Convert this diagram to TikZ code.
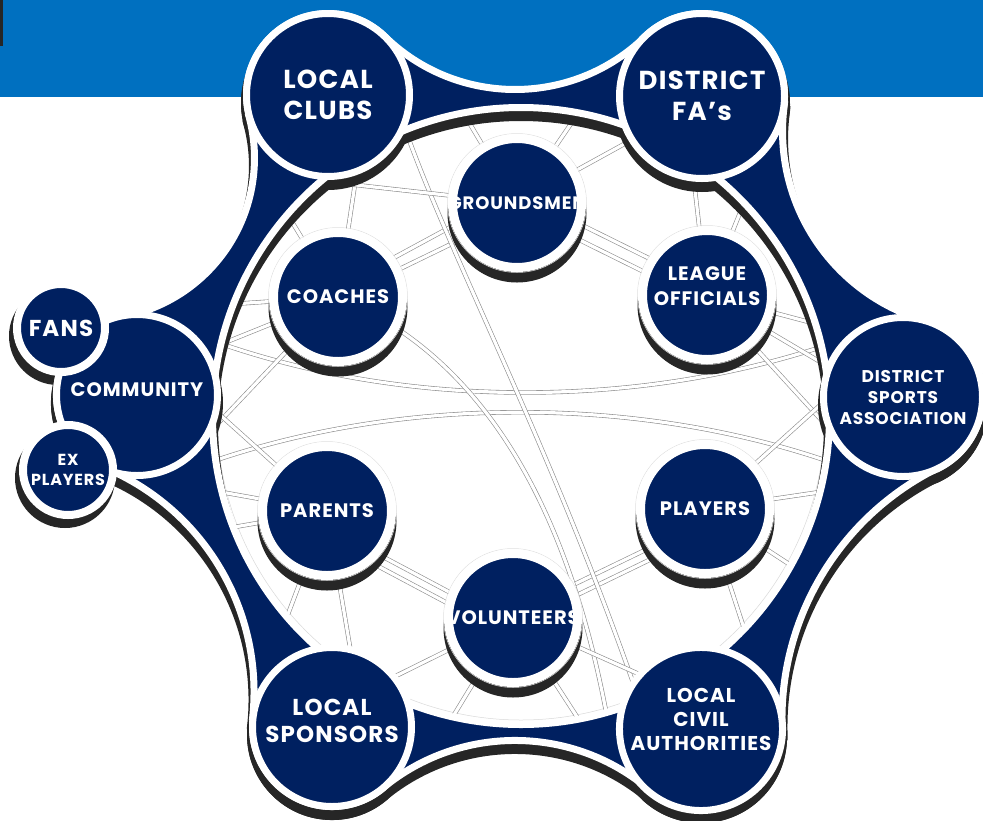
\documentclass[tikz,border=0pt]{standalone}
\usepackage{fontspec}
\newfontfamily\discfont{Poppins}[LetterSpace=5]

\definecolor{bandblue}{HTML}{0070C0}
\definecolor{navy}{HTML}{002060}
\definecolor{dropgray}{HTML}{262626}

% rim of the navy shape: six discs joined by hollow arcs, with the big hole
\newcommand\blobpath{%
  (249.3,-116.1) arc[start angle=195, end angle=45.8, radius=81.5]
  -- (385.0,-36.7) arc[start angle=-134.2, end angle=-45.9, radius=186.5]
  -- (644.6,-36.8) arc[start angle=134.1, end angle=-7.2, radius=82.5]
  -- (784.1,-106.3) arc[start angle=172.8, end angle=253.9, radius=197.5]
  -- (925.0,-320.6) arc[start angle=73.9, end angle=-63.7, radius=79.5]
  -- (937.9,-468.0) arc[start angle=116.3, end angle=181.6, radius=280]
  -- (781.5,-726.8) arc[start angle=1.6, end angle=-130.3, radius=80.5]
  -- (649.2,-789.7) arc[start angle=49.7, end angle=129.6, radius=207.5]
  -- (382.7,-788.3) arc[start angle=-50.4, end angle=-186.2, radius=79.5]
  -- (252.6,-718.2) arc[start angle=-6.2, end angle=67.0, radius=243]
  -- (105.5,-469.1) arc[start angle=-113.0, end angle=-259.5, radius=80.5]
  -- (122.4,-316.8) arc[start angle=-79.5, end angle=15.0, radius=161.5]
  -- cycle
  (521,-416) circle[radius=308.5]}

\begin{document}
\begin{tikzpicture}[
  x=1pt, y=1pt,
  disc/.style={circle, fill=navy, draw=white, line width=7, inner sep=0pt,
               text=white, align=center},
  hub/.style={disc, line width=9, minimum size=129,
              font=\discfont\bfseries\fontsize{19.5}{25}\selectfont},
  sz/.style 2 args={font=\discfont\bfseries\fontsize{#1}{#2}\selectfont},
  wire/.style={draw=black!45, line width=0.6, double=white, double distance=3.2},
]
\useasboundingbox (0,0) rectangle (983,-820);
\fill[white] (0,0) rectangle (983,-820);
\fill[bandblue] (0,0) rectangle (983,-97);
\fill[dropgray] (0,0) rectangle (2.5,-46);

% centres
\coordinate (hole)    at (521,-416);
\coordinate (clubsC)  at (328,-95);
\coordinate (faC)     at (702,-96);
\coordinate (dsaC)    at (903,-397);
\coordinate (civilC)  at (701,-729);
\coordinate (sponsC)  at (332,-727);
\coordinate (commC)   at (137,-395);
\coordinate (fansC)   at (61,-328);
\coordinate (exC)     at (68,-470);
\coordinate (coachC)  at (338,-297);
\coordinate (groundC) at (517,-203);
\coordinate (leagueC) at (707,-295);
\coordinate (parentC) at (327,-511);
\coordinate (playerC) at (705,-509);
\coordinate (volunC)  at (513,-618);

% web inside the hole
\draw[gray!30, line width=0.5] (hole) circle[radius=304];
\draw[wire] ([yshift=9pt]coachC) -- ([yshift=12pt]groundC);
\draw[wire] ([yshift=-2pt]coachC) -- ([yshift=-9pt]groundC);
\draw[wire] ([yshift=10pt]groundC) -- ([yshift=8pt]leagueC);
\draw[wire] ([yshift=-6pt]groundC) -- ([yshift=-8pt]leagueC);
\draw[wire] ([xshift=-12pt]leagueC) -- ([xshift=-10pt]playerC);
\draw[wire] ([xshift=5pt]leagueC) -- ([xshift=7pt]playerC);
\draw[wire] ([yshift=-12pt]playerC) -- ([yshift=4pt]volunC);
\draw[wire] ([yshift=-24pt]playerC) -- ([yshift=-8pt]volunC);
\draw[wire] ([yshift=-16pt]parentC) -- ([yshift=-8pt]volunC);
\draw[wire] ([yshift=-28pt]parentC) -- ([yshift=-20pt]volunC);
\draw[wire] ([xshift=-20pt]coachC) -- ([xshift=-9pt]parentC);
\draw[wire] ([xshift=-5pt]coachC) -- ([xshift=6pt]parentC);
\draw[wire] (205,-338) .. controls (400,-410) and (640,-410) .. (836,-342);
\draw[wire] (205,-464) .. controls (400,-395) and (640,-395) .. (836,-464);
\draw[wire] (coachC) .. controls (490,-360) and (575,-520) .. (612,-745);
\draw[wire] (402,-120) .. controls (450,-260) and (560,-460) .. (652,-738);
\foreach \src/\ang in {coachC/121, coachC/139, coachC/159, coachC/167, coachC/183,
                       groundC/66, groundC/79, groundC/101, groundC/131,
                       leagueC/57, leagueC/44, leagueC/17, leagueC/9, leagueC/-3,
                       playerC/4, playerC/-14, playerC/-29, playerC/-44,
                       parentC/178, parentC/194, parentC/201, parentC/221, parentC/238,
                       volunC/241, volunC/257, volunC/281, volunC/299}
  \draw[wire] (\src) -- ([shift={(\ang:312)}]hole);

% inner discs
\foreach \c in {coachC, groundC, leagueC, parentC, playerC, volunC} {
  \fill[dropgray] ([yshift=-10pt]\c) circle[radius=69.5];
  \draw[gray!25, line width=0.5] (\c) circle[radius=69.5];
}
\node (coaches)    [hub] at (coachC)  {COACHES};
\node (grounds)    [hub, sz={18}{25}] at (groundC) {\makebox[0pt]{GROUNDSMEN}};
\node (league)     [hub] at (leagueC) {LEAGUE\\OFFICIALS\\[-7pt]\mbox{}};
\node (parents)    [hub] at (parentC) {PARENTS};
\node (players)    [hub] at (playerC) {PLAYERS};
\node (volunteers) [hub] at (volunC)  {\makebox[0pt]{VOLUNTEERS}};

% shadows under the navy shape
\begin{scope}[yshift=-8pt]
  \path[fill=dropgray, draw=dropgray, line width=11, even odd rule] \blobpath;
\end{scope}
\foreach \c/\r in {clubsC/87, faC/88, dsaC/85, civilC/86, sponsC/85, commC/86}
  \fill[dropgray] ([yshift=-8pt]\c) circle[radius=\r];
\fill[dropgray] ([shift={(-3pt,-8pt)}]fansC) circle[radius=49];
\fill[dropgray] ([shift={(-3pt,-8pt)}]exC) circle[radius=50];

% navy shape
\path[fill=navy, draw=white, line width=7, even odd rule] \blobpath;

% outer discs
\node (clubs) [disc, minimum size=163, sz={26}{31}] at (clubsC) {LOCAL\\CLUBS};
\node (fa)    [disc, minimum size=165, sz={26}{31}] at (faC) {DISTRICT\\FA’s};
\node (dsa)   [disc, minimum size=159, sz={17}{21}] at (dsaC)
  {DISTRICT\\SPORTS\\ASSOCIATION};
\node (civil) [disc, minimum size=161, sz={20}{24}] at (civilC)
  {LOCAL\\CIVIL\\AUTHORITIES\\[-4pt]\mbox{}};
\node (spons) [disc, minimum size=159, sz={23}{27}] at (sponsC)
  {LOCAL\\SPONSORS\\[-15pt]\mbox{}};
\node (comm)  [disc, minimum size=161, sz={19.5}{23}] at (commC)
  {COMMUNITY\\[-13pt]\mbox{}};
\node (fans)  [disc, line width=8, minimum size=88, sz={23}{28}] at (fansC) {FANS};
\node (explayers) [disc, line width=8, minimum size=90, sz={16}{20}] at (exC)
  {EX\\PLAYERS};
\end{tikzpicture}
\end{document}
